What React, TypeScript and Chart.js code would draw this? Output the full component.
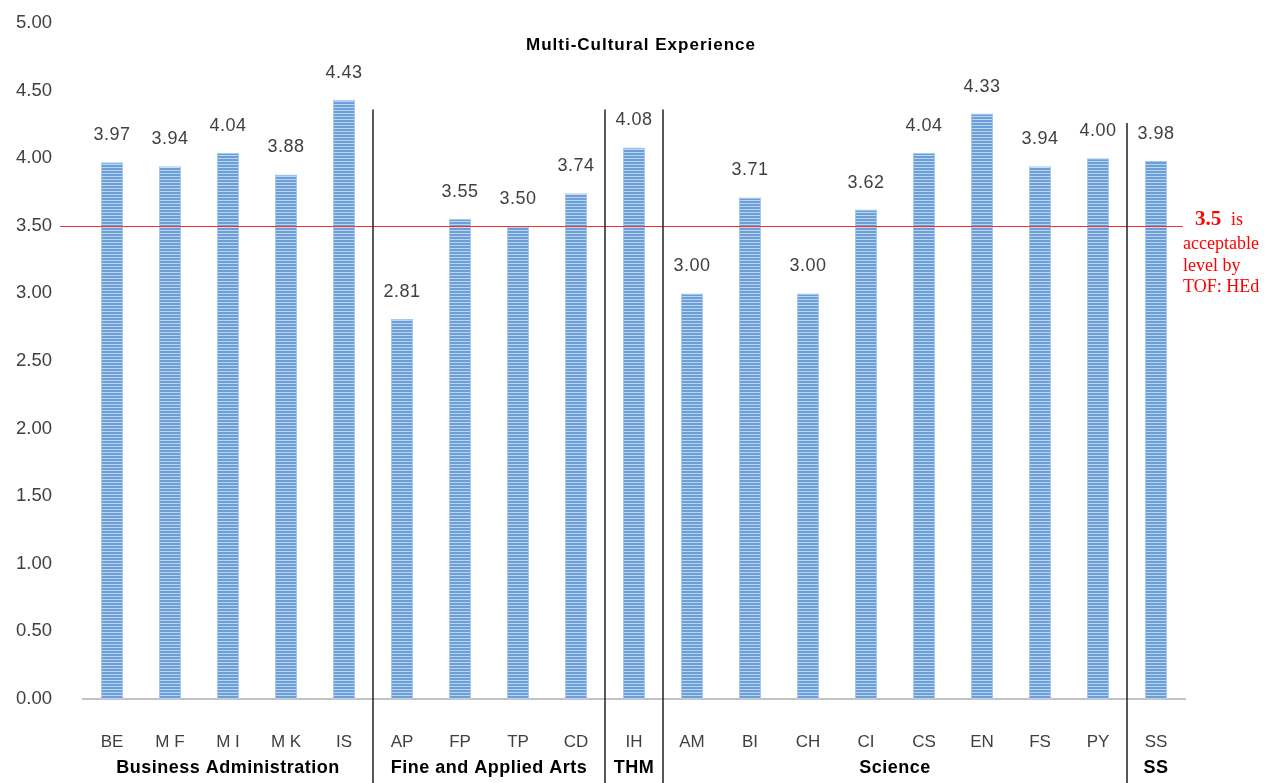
import React, { useEffect, useRef } from "react";
import { Chart, registerables } from "chart.js";

Chart.register(...registerables);

const categories = ["BE", "M F", "M I", "M K", "IS", "AP", "FP", "TP", "CD", "IH", "AM", "BI", "CH", "CI", "CS", "EN", "FS", "PY", "SS"];
const values = [3.97, 3.94, 4.04, 3.88, 4.43, 2.81, 3.55, 3.5, 3.74, 4.08, 3.0, 3.71, 3.0, 3.62, 4.04, 4.33, 3.94, 4.0, 3.98];
const groups = [
  { name: "Business Administration", from: 0, to: 4 },
  { name: "Fine and Applied Arts", from: 5, to: 8 },
  { name: "THM", from: 9, to: 9 },
  { name: "Science", from: 10, to: 17 },
  { name: "SS", from: 18, to: 18 },
];
// separators after these indices, with top value
const separators = [
  { after: 4, top: 4.36 },
  { after: 8, top: 4.36 },
  { after: 9, top: 4.36 },
  { after: 17, top: 4.26 },
];
const threshold = 3.5;
const title = "Multi-Cultural Experience";

function makePattern(): CanvasPattern | string {
  const c = document.createElement("canvas");
  c.width = 1;
  c.height = 3;
  const g = c.getContext("2d");
  if (!g) return "#6a9fd8";
  g.fillStyle = "#6a9fd8";
  g.fillRect(0, 0, 1, 2);
  g.fillStyle = "#bcd4f0";
  g.fillRect(0, 2, 1, 1);
  return g.createPattern(c, "repeat") || "#6a9fd8";
}

const overlay = {
  id: "overlay",
  afterDatasetsDraw(chart: any) {
    const { ctx, chartArea, scales } = chart;
    const x = scales.x;
    const y = scales.y;
    ctx.save();
    // threshold line
    const ty = Math.round(y.getPixelForValue(threshold)) + 0.5;
    ctx.strokeStyle = "rgb(240, 50, 50)";
    ctx.lineWidth = 1.2;
    ctx.beginPath();
    ctx.moveTo(60, ty);
    ctx.lineTo(chartArea.right - 2, ty);
    ctx.stroke();
    // separators
    ctx.strokeStyle = "#202020";
    ctx.lineWidth = 1.5;
    separators.forEach((s) => {
      const px = (x.getPixelForValue(s.after) + x.getPixelForValue(s.after + 1)) / 2;
      ctx.beginPath();
      ctx.moveTo(px, y.getPixelForValue(s.top));
      ctx.lineTo(px, chart.height);
      ctx.stroke();
    });
    // value labels
    ctx.fillStyle = "#404040";
    ctx.font = "18px 'Liberation Sans', Arial, sans-serif";
    (ctx as any).letterSpacing = "0.5px";
    ctx.textAlign = "center";
    ctx.textBaseline = "middle";
    const meta = chart.getDatasetMeta(0);
    meta.data.forEach((bar: any, i: number) => {
      ctx.fillText(values[i].toFixed(2), bar.x, bar.y - 27);
    });
    // group labels
    ctx.fillStyle = "#000";
    ctx.font = "bold 18px 'Liberation Sans', Arial, sans-serif";
    groups.forEach((g) => {
      const cx = (x.getPixelForValue(g.from) + x.getPixelForValue(g.to)) / 2;
      ctx.fillText(g.name, cx, 768);
    });
    // title
    ctx.font = "bold 17px 'Liberation Sans', Arial, sans-serif";
    (ctx as any).letterSpacing = "1px";
    ctx.fillText(title, 641, 45);
    (ctx as any).letterSpacing = "0px";
    // annotation
    ctx.fillStyle = "#ff0000";
    ctx.textAlign = "left";
    ctx.textBaseline = "alphabetic";
    ctx.font = "bold 21px 'Liberation Serif', 'Times New Roman', serif";
    ctx.fillText("3.5", 1195, 225);
    ctx.font = "18px 'Liberation Serif', 'Times New Roman', serif";
    ctx.fillText("is", 1231, 225);
    ctx.fillText("acceptable", 1183, 249);
    ctx.fillText("level by", 1183, 271);
    ctx.fillText("TOF: HEd", 1183, 292);
    ctx.restore();
  },
};

export default function App() {
  const ref = useRef<HTMLCanvasElement | null>(null);
  useEffect(() => {
    document.body.style.margin = "0";
    const canvas = ref.current;
    if (!canvas) return;
    const chart = new Chart(canvas, {
      type: "bar",
      data: {
        labels: categories,
        datasets: [
          {
            data: values,
            backgroundColor: makePattern() as any,
            borderColor: "#a8c8ea",
            borderWidth: 1,
            categoryPercentage: 1,
            barPercentage: 0.38,
          },
        ],
      },
      options: {
        responsive: false,
        animation: false,
        layout: { padding: { top: 23, right: 91, left: 0, bottom: 0 } },
        plugins: { legend: { display: false }, tooltip: { enabled: false }, title: { display: false } },
        scales: {
          x: {
            grid: { display: false, drawTicks: false },
            border: { display: true, color: "#c3c3c3", width: 2 },
            ticks: {
              color: "#404040",
              font: { size: 17, family: "'Liberation Sans', Arial, sans-serif" },
              padding: 33,
              maxRotation: 0,
              autoSkip: false,
            },
            afterFit: (s: any) => {
              s.height = 84;
              s.paddingLeft = 0;
              s.paddingRight = 0;
            },
          },
          y: {
            min: 0,
            max: 5,
            grid: { display: false, drawTicks: false },
            border: { display: false },
            ticks: {
              stepSize: 0.5,
              color: "#404040",
              font: { size: 18.5, family: "'Liberation Sans', Arial, sans-serif" },
              padding: 31,
              callback: (v: any) => Number(v).toFixed(2),
            },
            afterFit: (s: any) => {
              s.width = 83;
              s.paddingTop = 0;
              s.paddingBottom = 0;
            },
          },
        },
      },
      plugins: [overlay],
    });
    return () => chart.destroy();
  }, []);
  return (
    <div style={{ width: 1276, height: 783 }}>
      <canvas ref={ref} width={1276} height={783} style={{ display: "block" }} />
    </div>
  );
}
